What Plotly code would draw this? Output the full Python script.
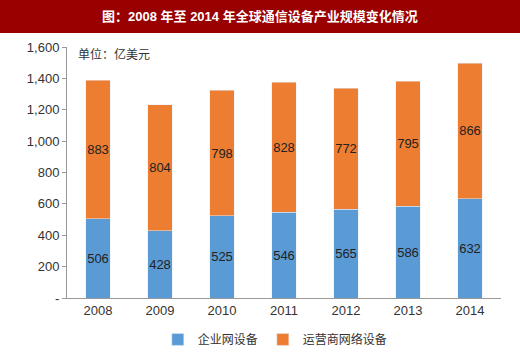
import plotly.graph_objects as go

years = ["2008", "2009", "2010", "2011", "2012", "2013", "2014"]
enterprise = [506, 428, 525, 546, 565, 586, 632]
operator = [883, 804, 798, 828, 772, 795, 866]
ytick_vals = [0, 200, 400, 600, 800, 1000, 1200, 1400, 1600]
ytick_text = ["-", "200", "400", "600", "800", "1,000", "1,200", "1,400", "1,600"]

FONT = "Liberation Sans, Noto Sans CJK SC, sans-serif"

fig = go.Figure()
fig.add_trace(go.Bar(x=years, y=enterprise, name="企业网设备", marker_color="#5B9BD5",
                     text=enterprise, textposition="inside", insidetextanchor="middle", textangle=0,
                     textfont=dict(size=13, color="#222222", family=FONT), width=0.39))
fig.add_trace(go.Bar(x=years, y=operator, name="运营商网络设备", marker_color="#ED7D31",
                     text=operator, textposition="inside", insidetextanchor="middle", textangle=0,
                     textfont=dict(size=13, color="#222222", family=FONT), width=0.39))

fig.update_layout(
    barmode="stack",
    width=520, height=352,
    margin=dict(l=67, r=19, t=47, b=54, autoexpand=False),
    paper_bgcolor="white", plot_bgcolor="white",
    font=dict(family=FONT, size=13, color="#333333"),
    uniformtext=dict(minsize=13, mode="show"),
    xaxis=dict(showline=True, linecolor="#999999", linewidth=1, ticks="", showgrid=False,
               tickfont=dict(size=13, color="#333333")),
    yaxis=dict(range=[0, 1600], tickvals=ytick_vals, ticktext=ytick_text, showgrid=False,
               showline=True, linecolor="#999999", linewidth=1, ticks="outside", ticklen=4,
               tickcolor="#999999", tickfont=dict(size=13, color="#333333"), zeroline=False),
    legend=dict(orientation="h", x=0.48, xanchor="center", y=-0.165, yanchor="middle",
                font=dict(size=12, color="#333333"), itemwidth=30, traceorder="normal"),
    showlegend=True,
    shapes=[dict(type="rect", xref="paper", yref="paper", x0=-0.2, x1=1.1, y0=1 + (47 - 33) / 251, y1=1.25,
                 fillcolor="#990000", line=dict(width=0), layer="above")],
    annotations=[
        dict(text="<b>图：2008 年至 2014 年全球通信设备产业规模变化情况</b>", xref="paper", yref="paper",
             x=(260 - 67) / 434, y=1 + (47 - 16) / 251, showarrow=False,
             font=dict(size=13, color="white", family=FONT), xanchor="center", yanchor="middle"),
        dict(text="单位：亿美元", xref="paper", yref="paper", x=0.02, y=1 - (55 - 47) / 251, showarrow=False,
             xanchor="left", yanchor="middle", font=dict(size=12, color="#333333")),
    ],
)

fig.write_html("out.html")
